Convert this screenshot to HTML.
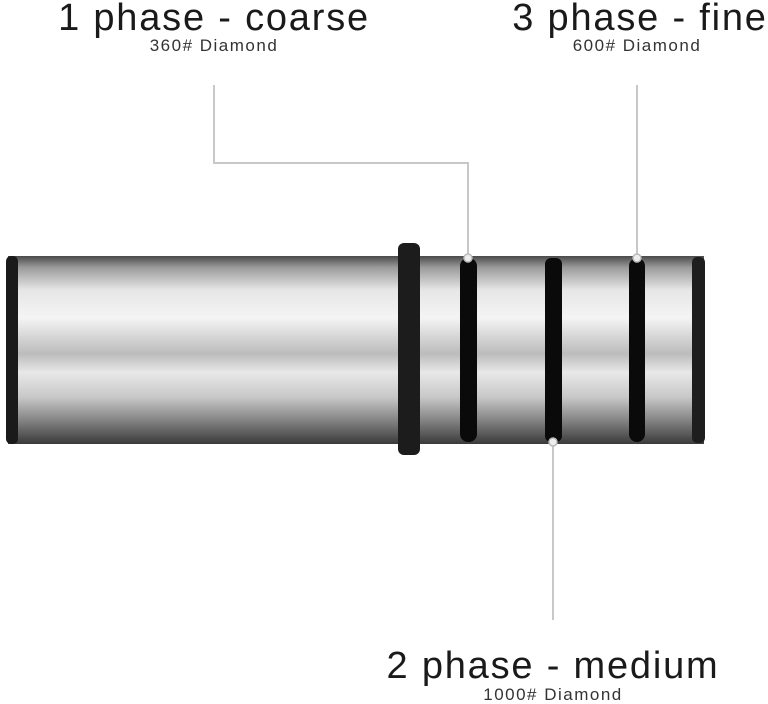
<!DOCTYPE html>
<html><head><style>
body{margin:0;width:768px;height:703px;background:#fff;overflow:hidden;position:relative;font-family:"Liberation Sans",sans-serif}
.t{position:absolute;text-align:center;color:#1a1a1a;white-space:nowrap;transform:translateX(-50%)}
.big{font-size:38px;line-height:40px;letter-spacing:1.8px}
.sm{font-size:17px;line-height:18px;color:#333;letter-spacing:1.5px}
</style></head><body>
<svg width="768" height="703" style="position:absolute;left:0;top:0">
<defs>
<linearGradient id="m" x1="0" y1="0" x2="0" y2="1">
<stop offset="0" stop-color="#4a4a4a"/>
<stop offset="0.06" stop-color="#9a9a9a"/>
<stop offset="0.18" stop-color="#e6e6e6"/>
<stop offset="0.33" stop-color="#f4f4f4"/>
<stop offset="0.45" stop-color="#d0d0d0"/>
<stop offset="0.52" stop-color="#bcbcbc"/>
<stop offset="0.62" stop-color="#e8e8e8"/>
<stop offset="0.75" stop-color="#c8c8c8"/>
<stop offset="0.88" stop-color="#808080"/>
<stop offset="1" stop-color="#3a3a3a"/>
</linearGradient>
</defs>
<g stroke="#c8c8c8" stroke-width="2" fill="none">
<polyline points="214,85 214,163 468,163 468,258"/>
<line x1="637" y1="85" x2="637" y2="258"/>
<line x1="553" y1="442" x2="553" y2="620"/>
</g>
<rect x="8" y="256" width="696" height="188" fill="url(#m)"/>
<rect x="6" y="256" width="12" height="188" rx="5" fill="#1a1a1a"/>
<rect x="692" y="257" width="13" height="186" rx="5" fill="#1e1e1e"/>
<rect x="398" y="243" width="22" height="212" rx="6" fill="#1c1c1c"/>
<rect x="460" y="258" width="17" height="184" rx="8" fill="#0a0a0a"/>
<rect x="545" y="258" width="17" height="184" rx="6" fill="#0a0a0a"/>
<rect x="629" y="258" width="16" height="184" rx="8" fill="#0a0a0a"/>
<g fill="#eee" stroke="#bbb" stroke-width="1.5">
<circle cx="468" cy="258" r="4"/><circle cx="637" cy="258" r="4"/><circle cx="553" cy="442" r="4"/>
</g>
</svg>
<div class="t big" style="left:214px;top:-2px">1 phase - coarse</div>
<div class="t sm" style="left:214px;top:37px">360# Diamond</div>
<div class="t big" style="left:640px;top:-2px">3 phase - fine</div>
<div class="t sm" style="left:637px;top:37px">600# Diamond</div>
<div class="t big" style="left:553px;top:646px">2 phase - medium</div>
<div class="t sm" style="left:553px;top:686px">1000# Diamond</div>
</body></html>
